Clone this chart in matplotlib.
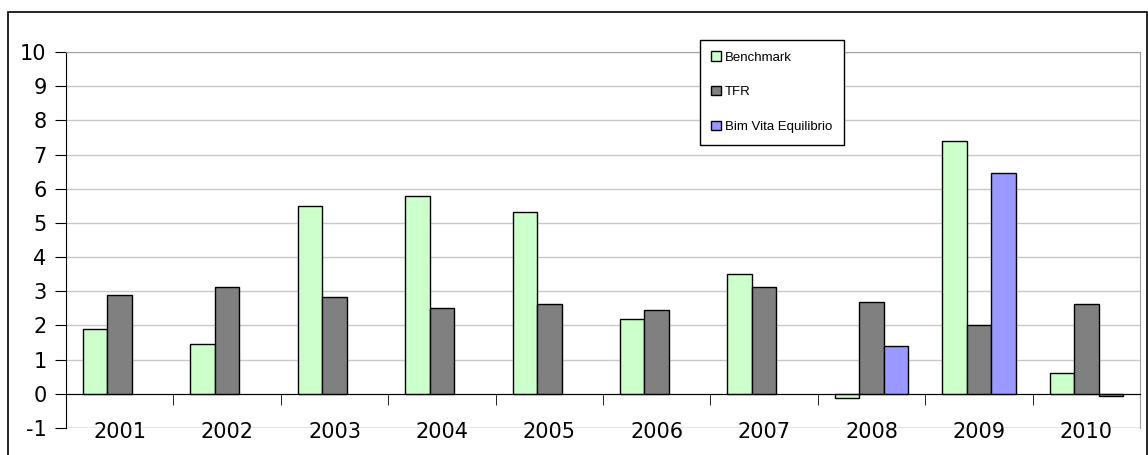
import numpy as np
import matplotlib.pyplot as plt
from matplotlib.patches import Rectangle
from matplotlib.ticker import FixedLocator

plt.rcParams["axes.unicode_minus"] = False

# ===============================
# データ
# ===============================
years = ["2001", "2002", "2003", "2004", "2005", "2006", "2007", "2008", "2009", "2010"]
benchmark = [1.9, 1.45, 5.5, 5.8, 5.33, 2.2, 3.5, -0.12, 7.4, 0.62]
tfr = [2.88, 3.12, 2.83, 2.5, 2.63, 2.45, 3.12, 2.7, 2.0, 2.63]
bim_vita = [np.nan, np.nan, np.nan, np.nan, np.nan, np.nan, np.nan, 1.4, 6.45, -0.05]

series = [
    ("Benchmark", benchmark, "#CCFFCC"),
    ("TFR", tfr, "#808080"),
    ("Bim Vita Equilibrio", bim_vita, "#9999FF"),
]

W, H = 1148, 455
fig = plt.figure(figsize=(W / 100, H / 100), dpi=100)
ax = fig.add_axes([66 / W, 1 - 428 / H, (1140 - 66) / W, (428 - 52) / H])

# 外枠
fig.patches.append(Rectangle((8 / W, -0.05), (1147 - 8) / W, 1.05 - 12 / H,
                             transform=fig.transFigure, fill=False,
                             edgecolor="black", linewidth=1.2))

x = np.arange(len(years))
bw = 0.228
for i, (name, vals, col) in enumerate(series):
    ax.bar(x + (i - 1) * bw, vals, width=bw, color=col, edgecolor="black",
           linewidth=1.0, label=name, zorder=3)

ax.set_xlim(-0.5, len(years) - 0.5)
ax.set_ylim(-1, 10)
ax.set_yticks(range(-1, 11))
ax.yaxis.grid(True, color="#C8C8C8", linewidth=1.0, zorder=0)
ax.axhline(-1, color="#A0A0A0", linewidth=1.0, zorder=1)

# x軸は0の位置に
ax.spines["bottom"].set_position(("data", 0))
ax.spines["bottom"].set_color("black")
ax.spines["bottom"].set_zorder(4)
ax.spines["left"].set_color("black")
for s in ("top", "right"):
    ax.spines[s].set_color("#A0A0A0")

ax.set_xticks(x)
ax.set_xticklabels(years)
ax.xaxis.set_minor_locator(FixedLocator(np.arange(0.5, len(years), 1.0)))
ax.tick_params(axis="x", which="major", length=0, pad=20, labelsize=15)
ax.tick_params(axis="x", which="minor", length=8, direction="out", color="black")
ax.tick_params(axis="y", length=8, direction="out", labelsize=15, pad=6)
for lab in ax.get_xticklabels() + ax.get_yticklabels():
    lab.set_fontfamily("DejaVu Sans")

leg = ax.legend(loc="upper left", bbox_to_anchor=((693 - 66) / (1140 - 66), (428 - 33) / (428 - 52)),
                frameon=True, fancybox=False, edgecolor="black", framealpha=1,
                prop={"family": "Liberation Sans", "size": 9.5},
                handlelength=0.7, handleheight=0.7, handletextpad=0.3,
                labelspacing=1.7, borderpad=0.9)
leg.get_frame().set_linewidth(1.0)
leg.set_zorder(5)

plt.savefig("out.png", dpi=100)
plt.close()
